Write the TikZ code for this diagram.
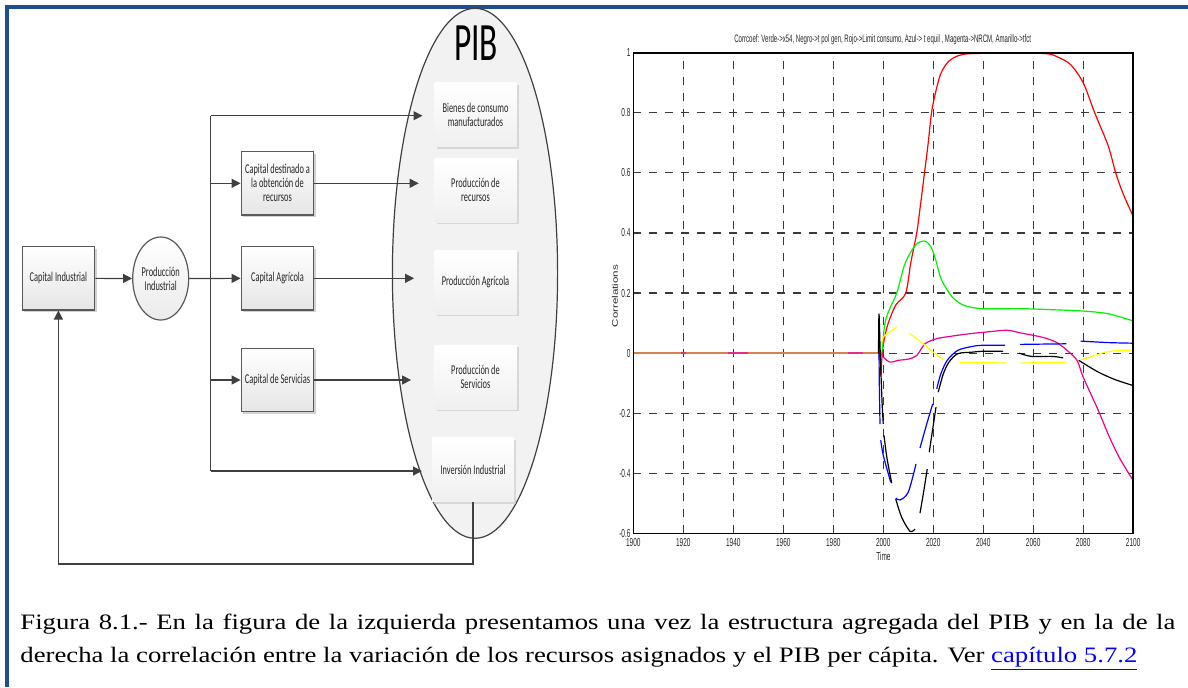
\documentclass[tikz,border=0pt]{standalone}
\usepackage{fontspec}
\usepackage{xcolor}
\usepackage{graphicx}
\usepackage{tikz}
\usetikzlibrary{arrows.meta,positioning,shapes.geometric,shadows}
\setmainfont{Liberation Serif}
\newfontfamily\diagfont[FakeStretch=0.62]{Carlito}
\newfontfamily\plotfont[FakeStretch=0.56]{Liberation Sans}
\newfontfamily\ylabfont{Liberation Sans}
\newfontfamily\captfont[FakeStretch=1.215]{Liberation Serif}
\definecolor{framec}{HTML}{1F4E8C}
\definecolor{linec}{HTML}{404040}
\definecolor{boxc}{HTML}{595959}
\definecolor{linkc}{HTML}{0000FF}
\definecolor{flatc}{HTML}{D9804F}
\definecolor{gridc}{HTML}{3A3A3A}
\definecolor{yelc}{HTML}{FFFF00}
\definecolor{grnc}{HTML}{00F000}
\tikzset{
  ln/.style={draw=linec,line width=0.6pt},
  ar/.style={ln,-{Triangle[length=4.5pt,width=4.5pt]}},
  cbox/.style={draw=boxc,line width=0.6pt,top color=white,bottom color=black!10,minimum width=36.3pt,minimum height=31.6pt,inner sep=1pt,align=center,text=black!85,font=\diagfont\fontsize{6.75}{7}\selectfont,drop shadow={shadow xshift=1pt,shadow yshift=-1pt,fill=black!25,opacity=0.7}},
  pbox/.style={top color=white,bottom color=black!6,minimum width=41pt,minimum height=32pt,inner sep=1pt,align=center,text=black!85,font=\diagfont\fontsize{6.75}{7}\selectfont,drop shadow={shadow xshift=1pt,shadow yshift=-1pt,fill=black!20,opacity=0.7}},
  cell/.style={ellipse,draw=boxc,line width=0.6pt,top color=white,bottom color=black!8,inner sep=0pt,align=center,text=black!85,font=\diagfont\fontsize{6.75}{7}\selectfont},
  grd/.style={draw=gridc,line width=0.6pt,dash pattern=on 4pt off 4pt},
  crv/.style={line width=0.6pt},
  tickl/.style={font=\plotfont\fontsize{5.8}{6}\selectfont,inner sep=0pt,text=black!85}
}
\begin{document}
\begin{tikzpicture}[x=0.5pt,y=-0.5pt]
\useasboundingbox (0,0) rectangle (1188,687);
\draw[framec,line width=1.6pt] (7,687) -- (7,7) -- (1188,7);

% left: PIB structure
\node[ellipse,draw=linec,line width=0.6pt,fill=black!5,minimum width=82.6pt,minimum height=265pt] (pib) at (475,273.3) {};
\node[font=\diagfont\fontsize{27}{27}\selectfont,anchor=base,inner sep=0pt] (piblab) at (476,60) {PIB};
\node[cbox] (capind) at (58.4,278.3) {Capital Industrial};
\node[cell,minimum width=28pt,minimum height=41.5pt] (prodind) at (160.7,278.5) {Producción\\Industrial};
\node[cbox] (capres) at (277.5,183.3) {Capital destinado a\\la obtención de\\recursos};
\node[cbox] (capagr) at (277.5,278.3) {Capital Agrícola};
\node[cbox] (capser) at (277.5,380) {Capital de Servicias};
\node[pbox] (bienes) at (475.5,114.7) {Bienes de consumo\\manufacturados};
\node[pbox] (prodres) at (475.5,190.3) {Producción de\\recursos};
\node[pbox] (prodagr) at (475.5,282) {Producción Agrícola};
\node[pbox] (prodser) at (475.5,377) {Producción de\\Servicios};
\node[pbox] (invind) at (473,469.5) {Inversión Industrial};
\coordinate (busT) at (210.5,115.7);
\coordinate (busB) at (210.5,471);
\coordinate (fbk) at (58.4,564);

\draw[ar] (capind) -- (prodind);
\draw[ar] (prodind) -- (capagr);
\draw[ln] (busT) -- (busB);
\draw[ar] (capres.west -| busT) -- (capres.west);
\draw[ar] (capser.west -| busT) -- (capser.west);
\draw[ar,shorten >=5.8pt] (busT) -- (busT -| bienes.west);
\draw[ar,shorten >=7.7pt] (capres.east) -- (capres.east -| prodres.west);
\draw[ar,shorten >=10pt] (capagr.east) -- (capagr.east -| prodagr.west);
\draw[ar,shorten >=11.5pt] (capser.east) -- (capser.east -| prodser.west);
\draw[ar,shorten >=4.8pt] (busB) -- (busB -| invind.west);
\draw[ar] (invind.south) |- (fbk) -- (capind.south);

% right: correlations plot
\node[tickl,font=\plotfont\fontsize{5.4}{6}\selectfont] (ttl) at (882.7,39.3) {Corrcoef: Verde->x54, Negro->t pol gen, Rojo->Limit consumo, Azul-> t equil , Magenta->NRCM, Amarillo->tfct};
\node[tickl] (tlab) at (883.5,556.7) {Time};
\node[rotate=90,inner sep=0pt] (ylab) at (615,296) {\scalebox{1}[0.7]{\ylabfont\fontsize{5.8}{6}\selectfont\color{black!85}Correlations}};
\begin{scope}[shift={(633.3,353.1)},x=1.2497pt,y=150.2pt]
\foreach \t in {20,40,...,180} \draw[grd] (\t,-0.6) -- (\t,1);
\foreach \v in {-0.4,-0.2,0,0.2,0.4,0.6,0.8} \draw[grd] (0,\v) -- (200,\v);
\foreach \t/\yr in {0/1900,20/1920,40/1940,60/1960,80/1980,100/2000,120/2020,140/2040,160/2060,180/2080,200/2100}
  \node[tickl,anchor=north,yshift=-2.5pt] (xt\t) at (\t,-0.6) {\yr};
\foreach \v/\lab [count=\i] in {1/1,0.8/0.8,0.6/0.6,0.4/0.4,0.2/0.2,0/0,-0.2/-0.2,-0.4/-0.4,-0.6/-0.6}
  \node[tickl,anchor=east,xshift=-1.2pt] (yt\i) at (0,\v) {\lab};

\draw[crv,flatc,line width=0.9pt] (0,0) -- (98.3,0);
\foreach \a/\b in {19/21,38/46,86/92} \draw[crv,magenta!75!flatc,line width=0.9pt] (\a,0) -- (\b,0);

\draw[crv,red] plot[smooth] coordinates {(98.3,0) (99,-0.07) (99.6,0) (100.5,0.05) (102,0.1) (105,0.16) (109,0.2) (111,0.3) (113.4,0.4) (115,0.5) (116.5,0.6) (118,0.7) (119.3,0.8) (121,0.87) (123,0.93) (126,0.97) (130,0.99) (135,0.997) (150,0.998) (165,0.997) (170,0.985) (175,0.96) (180,0.9) (184.6,0.8) (190,0.69) (193,0.6) (196,0.53) (200,0.455)};
\draw[crv,grnc] plot[smooth] coordinates {(99.4,0) (100.7,0.1) (102.7,0.15) (105.4,0.2) (108.8,0.3) (113,0.36) (116.5,0.373) (119,0.355) (121,0.31) (123,0.25) (125.6,0.21) (128.4,0.18) (132.6,0.158) (139.6,0.148) (155,0.148) (169,0.144) (180,0.14) (190,0.131) (200,0.107)};
\draw[crv,magenta] plot[smooth] coordinates {(99,0) (100,-0.013) (102.7,-0.03) (106,-0.024) (110,-0.02) (113.4,-0.008) (116.7,0.031) (121.4,0.048) (127,0.056) (134,0.064) (141,0.07) (149.5,0.076) (155,0.067) (163.5,0.053) (169,0.037) (173.3,0.011) (177.5,-0.024) (180,-0.08) (186,-0.19) (190,-0.27) (194.4,-0.347) (200,-0.424)};

\draw[crv,yelc] plot[smooth] coordinates {(98.4,-0.063) (99.2,0.02) (100,0.053) (102.7,0.07) (105.4,0.087)};
\draw[crv,yelc] plot[smooth] coordinates {(110.4,0.067) (116,0.031) (120,0.003) (124,-0.022)};
\draw[crv,yelc] (130.3,-0.03) -- (149.5,-0.033);
\draw[crv,yelc] (155,-0.033) -- (173.3,-0.03);
\draw[crv,yelc] plot[smooth] coordinates {(179,-0.022) (184,-0.01) (188.8,0.003) (194.4,0.009) (200,0.009)};

\draw[crv,blue] plot[smooth] coordinates {(98.3,0.04) (98.4,-0.086) (98.7,-0.236)};
\draw[crv,blue] plot[smooth] coordinates {(99,-0.29) (100,-0.34) (103,-0.43)};
\draw[crv,blue] plot[smooth] coordinates {(105,-0.482) (106.7,-0.489) (110,-0.463) (113.1,-0.369)};
\draw[crv,blue] plot[smooth] coordinates {(114.7,-0.316) (117.4,-0.236) (119.8,-0.169)};
\draw[crv,blue] plot[smooth] coordinates {(121.4,-0.119) (123,-0.07) (125.6,-0.024) (129.8,0.009) (135.4,0.022) (139.6,0.026) (148.8,0.026)};
\draw[crv,blue] (154.8,0.029) -- (173.3,0.031);
\draw[crv,blue] plot[smooth] coordinates {(179,0.04) (190,0.035) (200,0.033)};

\draw[crv,black] plot[smooth] coordinates {(98.1,0) (98.3,0.131) (98.8,0) (99.5,-0.158) (100,-0.236)};
\draw[crv,black] plot[smooth] coordinates {(100.3,-0.274) (101.5,-0.35) (103.4,-0.433)};
\draw[crv,black] plot[smooth] coordinates {(105,-0.486) (107.4,-0.547) (110.7,-0.593) (112.7,-0.586)};
\draw[crv,black] plot[smooth] coordinates {(114.7,-0.533) (116.2,-0.46) (117.6,-0.386)};
\draw[crv,black] plot[smooth] coordinates {(118.4,-0.33) (121.1,-0.18)};
\draw[crv,black] plot[smooth] coordinates {(122,-0.13) (124,-0.07) (126.3,-0.03) (129.8,-0.002) (135.4,0.003) (139.6,0.006) (148,0.006)};
\draw[crv,black] plot[smooth] coordinates {(154.4,0) (159.3,-0.011) (167.7,-0.011) (172,-0.016)};
\draw[crv,black] plot[smooth] coordinates {(178.2,-0.024) (186,-0.063) (193,-0.089) (200,-0.108)};

\draw[black,line width=0.8pt] (0,-0.6) rectangle (200,1);
\end{scope}

% caption
\node[anchor=base west,inner sep=0pt,text width=577.5pt,align=justify,font=\captfont\fontsize{11}{16.5}\selectfont] (capt) at (20,629) {Figura 8.1.- En la figura de la izquierda presentamos una vez la estructura agregada del PIB y en la de la\linebreak derecha la correlación entre la variación de los recursos asignados y el PIB per cápita. Ver \textcolor{linkc}{\underline{capítulo 5.7.2}}};
\end{tikzpicture}
\end{document}
